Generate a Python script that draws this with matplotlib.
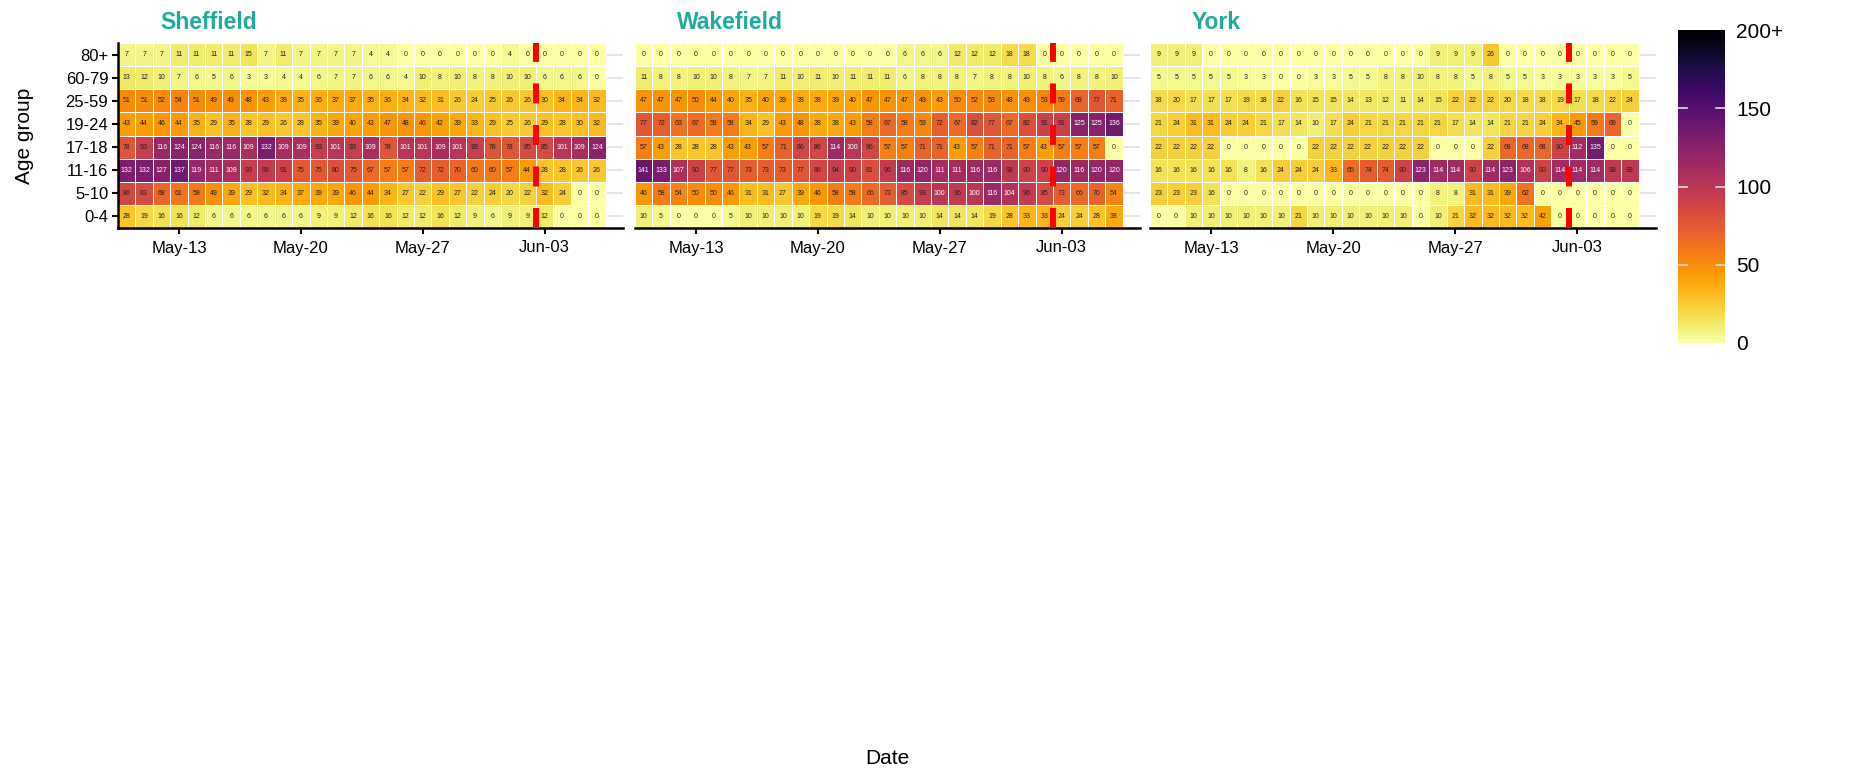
"""Daily case heatmaps by age group for Sheffield, Wakefield and York."""

import matplotlib
matplotlib.use("Agg")
import matplotlib.pyplot as plt
import numpy as np
import pandas as pd
from matplotlib.colors import Normalize
from matplotlib.cm import ScalarMappable

plt.rcParams["font.family"] = ["Liberation Sans", "DejaVu Sans"]
plt.rcParams["lines.scale_dashes"] = False

age_groups = ["80+", "60-79", "25-59", "19-24", "17-18", "11-16", "5-10", "0-4"]
dates = pd.date_range("2021-05-10", periods=28)
tick_dates = ["2021-05-13", "2021-05-20", "2021-05-27", "2021-06-03"]
marker_after = "2021-06-02"  # red dashed line sits between this day and the next

sheffield = [
    [7, 7, 7, 11, 11, 11, 11, 15, 7, 11, 7, 7, 7, 7, 4, 4, 0, 0, 0, 0, 0, 0, 4, 0, 0, 0, 0, 0],
    [13, 12, 10, 7, 6, 5, 6, 3, 3, 4, 4, 6, 7, 7, 6, 6, 4, 10, 8, 10, 8, 8, 10, 10, 6, 6, 6, 0],
    [51, 51, 52, 54, 51, 49, 49, 48, 43, 38, 35, 36, 37, 37, 35, 36, 34, 32, 31, 26, 24, 25, 26, 26, 30, 34, 34, 32],
    [43, 44, 46, 44, 35, 29, 35, 28, 29, 26, 28, 35, 39, 40, 43, 47, 48, 46, 42, 39, 33, 29, 25, 26, 29, 28, 30, 32],
    [78, 93, 116, 124, 124, 116, 116, 109, 132, 109, 109, 93, 101, 93, 109, 78, 101, 101, 109, 101, 93, 78, 78, 85, 85, 101, 109, 124],
    [132, 132, 127, 137, 119, 111, 109, 93, 96, 91, 75, 75, 80, 75, 67, 57, 57, 72, 72, 70, 60, 60, 57, 44, 28, 28, 26, 26],
    [86, 83, 68, 61, 59, 49, 39, 29, 32, 34, 37, 39, 39, 46, 44, 34, 27, 22, 29, 27, 22, 24, 20, 22, 32, 24, 0, 0],
    [28, 19, 16, 16, 12, 6, 6, 6, 6, 6, 6, 9, 9, 12, 16, 16, 12, 12, 16, 12, 9, 6, 9, 9, 12, 0, 0, 0],
]
wakefield = [
    [0, 0, 0, 0, 0, 0, 0, 0, 0, 0, 0, 0, 0, 0, 0, 6, 6, 6, 12, 12, 12, 18, 18, 0, 0, 0, 0, 0],
    [11, 8, 8, 10, 10, 8, 7, 7, 11, 10, 11, 10, 11, 11, 11, 6, 8, 8, 8, 7, 8, 8, 10, 8, 6, 8, 8, 10],
    [47, 47, 47, 50, 44, 40, 35, 40, 39, 38, 38, 39, 40, 47, 47, 47, 49, 43, 50, 52, 53, 48, 49, 53, 59, 69, 77, 71],
    [77, 72, 63, 67, 58, 58, 34, 29, 43, 48, 38, 38, 43, 58, 67, 58, 53, 72, 67, 82, 77, 67, 82, 91, 91, 125, 125, 136],
    [57, 43, 28, 28, 28, 43, 43, 57, 71, 86, 86, 114, 100, 86, 57, 57, 71, 71, 43, 57, 71, 71, 57, 43, 57, 57, 57, 0],
    [141, 133, 107, 90, 77, 77, 73, 73, 73, 77, 86, 94, 90, 81, 96, 116, 120, 111, 111, 116, 116, 98, 90, 90, 120, 116, 120, 120],
    [46, 58, 54, 50, 50, 46, 31, 31, 27, 39, 46, 58, 58, 66, 73, 85, 93, 100, 96, 100, 116, 104, 96, 85, 73, 66, 70, 54],
    [10, 5, 0, 0, 0, 5, 10, 10, 10, 10, 19, 19, 14, 10, 10, 10, 10, 14, 14, 14, 19, 28, 33, 33, 24, 24, 28, 38],
]
york = [
    [9, 9, 9, 0, 0, 0, 0, 0, 0, 0, 0, 0, 0, 0, 0, 0, 9, 9, 9, 26, 0, 0, 0, 0, 0, 0, 0, 0],
    [5, 5, 5, 5, 5, 3, 3, 0, 0, 3, 3, 5, 5, 8, 8, 10, 8, 8, 5, 8, 5, 5, 3, 3, 3, 3, 3, 5],
    [18, 20, 17, 17, 17, 19, 18, 22, 16, 15, 15, 14, 13, 12, 11, 14, 15, 22, 22, 22, 20, 18, 18, 19, 17, 18, 22, 24],
    [21, 24, 31, 31, 24, 24, 21, 17, 14, 10, 17, 24, 21, 21, 21, 21, 21, 17, 14, 14, 21, 21, 24, 34, 45, 59, 69, 0],
    [22, 22, 22, 22, 0, 0, 0, 0, 0, 22, 22, 22, 22, 22, 22, 22, 0, 0, 0, 22, 68, 68, 68, 90, 112, 135, 0, 0],
    [16, 16, 16, 16, 16, 8, 16, 24, 24, 24, 33, 65, 74, 74, 90, 123, 114, 114, 90, 114, 123, 106, 90, 114, 114, 114, 98, 98],
    [23, 23, 23, 16, 0, 0, 0, 0, 0, 0, 0, 0, 0, 0, 0, 0, 8, 8, 31, 31, 39, 62, 0, 0, 0, 0, 0, 0],
    [0, 0, 10, 10, 10, 10, 10, 10, 21, 10, 10, 10, 10, 10, 10, 0, 10, 21, 32, 32, 32, 32, 42, 0, 0, 0, 0, 0],
]

areas = {"Sheffield": sheffield, "Wakefield": wakefield, "York": york}

cmap = plt.get_cmap("inferno_r")
norm = Normalize(0, 200)
title_colour = "#1fab9b"

fig = plt.figure(figsize=(18.76, 7.69), dpi=100)
W, H = 1876, 769
# panel pixel boxes (left, right); all share top/bottom
panel_px = [(118, 623), (635, 1140), (1150, 1656)]
top_px, bottom_px = 43, 228

n_days = len(dates)
x_edges = np.arange(n_days + 1) - 0.5
y_edges = np.arange(len(age_groups) + 1) - 0.5
tick_pos = [list(dates).index(pd.Timestamp(d)) for d in tick_dates]
tick_lab = [pd.Timestamp(d).strftime("%b-%d") for d in tick_dates]
line_x = list(dates).index(pd.Timestamp(marker_after)) + 0.5

for i, (name, values) in enumerate(areas.items()):
    left, right = panel_px[i]
    ax = fig.add_axes([left / W, 1 - bottom_px / H, (right - left) / W, (bottom_px - top_px) / H])
    z = np.array(values[::-1], dtype=float)  # bottom row = youngest

    for y in range(len(age_groups)):
        ax.axhline(y, color="#e3e3e3", lw=1.3, zorder=0)
    ax.pcolormesh(x_edges, y_edges, np.clip(z, 0, 200), cmap=cmap, norm=norm,
                  edgecolors="white", linewidth=0.6, zorder=1)
    for r in range(z.shape[0]):
        for c in range(z.shape[1]):
            v = int(z[r, c])
            ax.text(c, r, str(v), ha="center", va="center", fontsize=5,
                    color="white" if v >= 100 else "#222222", zorder=2)

    ax.axvline(line_x, color="red", lw=4.3, linestyle=(0, (14.4, 15.5)), zorder=3)

    ax.set_xlim(-0.5, n_days + 0.5)
    ax.set_ylim(-0.5, len(age_groups) - 0.5)
    ax.set_xticks(tick_pos)
    ax.set_xticklabels(tick_lab, fontsize=12)
    ax.tick_params(axis="x", length=4, width=1.5, pad=5)
    for s in ["top", "right"]:
        ax.spines[s].set_visible(False)
    ax.spines["bottom"].set_linewidth(1.8)
    if i == 0:
        ax.set_yticks(range(len(age_groups)))
        ax.set_yticklabels(age_groups[::-1], fontsize=12)
        ax.tick_params(axis="y", length=4, width=1.5, pad=3)
        ax.spines["left"].set_linewidth(1.8)
    else:
        ax.set_yticks([])
        ax.spines["left"].set_visible(False)

    ax.text(0.083, 1.075, name, transform=ax.transAxes, ha="left", va="baseline",
            fontsize=16.5, fontweight="bold", color=title_colour)

fig.text(25 / W, 1 - 135.5 / H, "Age group", rotation=90, ha="center", va="center", fontsize=15)
fig.text(887 / W, 1 - 758 / H, "Date", ha="center", va="center", fontsize=15)

cax = fig.add_axes([1678 / W, 1 - 343 / H, 47 / W, 313 / H])
cb = fig.colorbar(ScalarMappable(norm=norm, cmap=cmap), cax=cax)
cb.outline.set_visible(False)
cb.set_ticks([0, 50, 100, 150, 200])
cb.set_ticklabels(["0", "50", "100", "150", "200+"])
cax.tick_params(length=0, pad=8, labelsize=15)
for v in [50, 100, 150]:
    cax.axhline(v, xmin=0, xmax=0.2, color="#dddddd", lw=1.2)
    cax.axhline(v, xmin=0.8, xmax=1, color="#dddddd", lw=1.2)

fig.savefig("out.png", dpi=100, facecolor="white")
